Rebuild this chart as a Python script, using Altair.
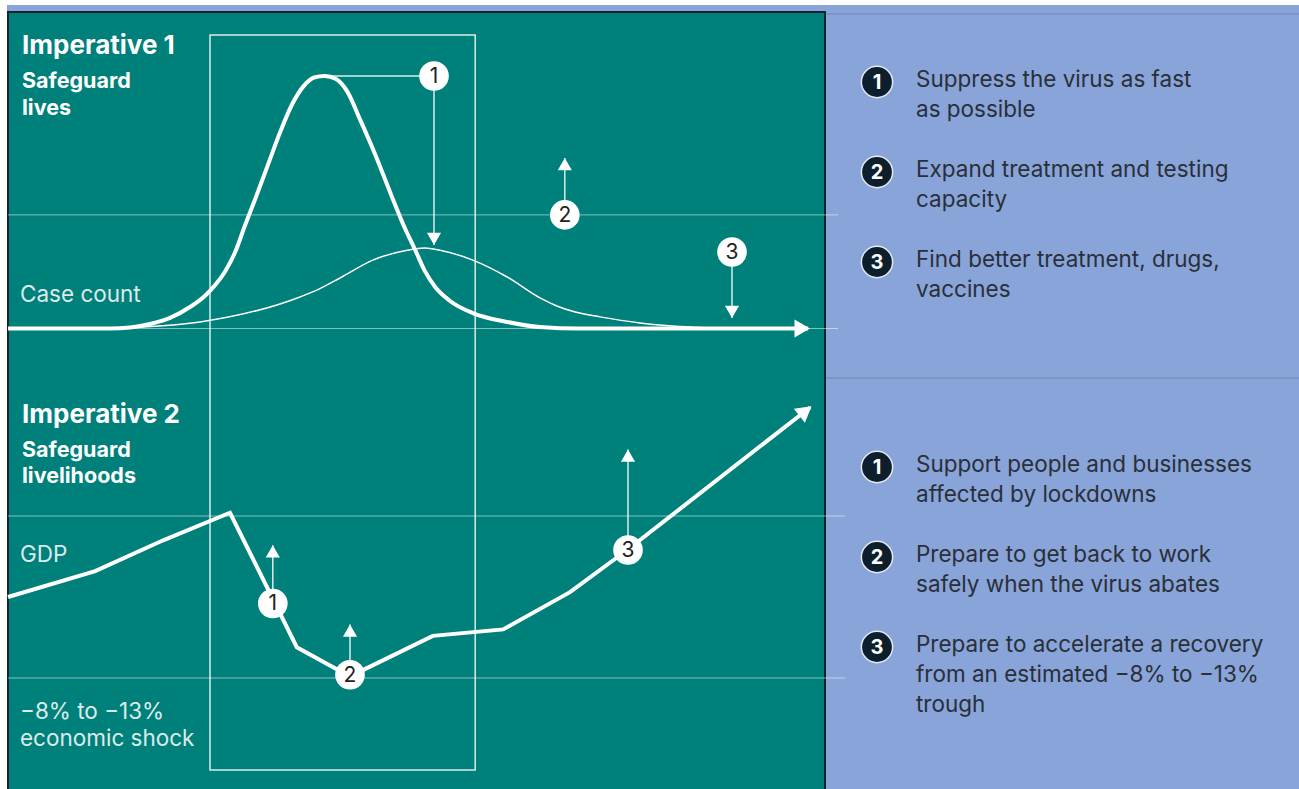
import math
import altair as alt
import pandas as pd

# ---------------- data ----------------
# Case count over time (time index 0-100), as % of the unmitigated peak
unmit_t = [0, 12.75, 15.25, 17.75, 20.25, 22.75, 24.6, 25.9, 27.1, 28.4, 29.6, 30.9, 32.4,
           34, 35.5, 36.9, 38.25, 39.6, 41, 42.4, 44, 45.9, 47.75, 49.6, 50.9, 52.1,
           53.4, 55.25, 58.1, 62.4, 66.5, 71.5, 100]
unmit_v = [0, 0, 0.4, 1.8, 4.2, 8.5, 12.9, 17.2, 22.4, 30.3, 40.6, 51.3, 64.0,
           77.6, 88.7, 95.8, 99.4, 100, 98.8, 93.9, 82.8, 68.9, 54.1, 39.8, 31.1, 22.8,
           16.4, 10.9, 6.1, 2.6, 0.6, 0, 0]
flat_t = [12.75, 24, 36.5, 38.6, 41.5, 45.6, 49.9, 52.1, 54, 58.1, 62.4, 66.5,
          68.6, 70.9, 74, 79, 85.25, 91.5]
flat_v = [0, 2.6, 12.5, 15.2, 20, 27.1, 31, 31.9, 31, 27.1, 20.4, 12.1,
          8.9, 6.5, 4.6, 2.2, 0.6, 0]
capacity = 45
peak_t = 39.6

# GDP index (pre-crisis level = 100)
gdp_t = [0, 10.9, 19.4, 27.75, 36.1, 42.75, 53.1, 61.9, 70.25, 77.4, 100.25]
gdp_v = [95.0, 96.6, 98.5, 100.2, 91.9, 90.1, 92.6, 93.0, 95.3, 97.9, 106.7]
gdp_pre = 100
gdp_trough = 90

# intervention window on the time axis
window_start = 25.25
window_end = 58.4

# numbered call-outs: time, level, arrow-tip level
case_n = ["1", "2", "3"]
case_ct = [53.25, 69.6, 90.5]
case_cv = [100, 45, 30.3]
case_tip = [33.1, 67.5, 4.2]

gdp_n = ["1", "2", "3"]
gdp_ct = [33.1, 42.75, 77.5]
gdp_cv = [94.6, 90.2, 97.9]
gdp_tip = [98.2, 93.3, 104.1]

# right-hand panel text
lives_items = [
    ["Suppress the virus as fast", "as possible"],
    ["Expand treatment and testing", "capacity"],
    ["Find better treatment, drugs,", "vaccines"],
]
livelihood_items = [
    ["Support people and businesses", "affected by lockdowns"],
    ["Prepare to get back to work", "safely when the virus abates"],
    ["Prepare to accelerate a recovery", "from an estimated \u22128% to \u221213%", "trough"],
]

# ---------------- styling ----------------
TEAL = "#00807a"
BLUE = "#88a4d8"
EDGE = "#14242c"
NAVY = "#0d1f2d"
INK = "#2a2f38"
FONT = "Inter"

X_RANGE = [8, 808]
CASE_RANGE = [328.5, 76]
GDP_RANGE = [678, 516]

xs = alt.Scale(domain=[0, 100], range=X_RANGE, nice=False, zero=False)
ys_case = alt.Scale(domain=[0, 100], range=CASE_RANGE, nice=False, zero=False)
ys_gdp = alt.Scale(domain=[gdp_trough, gdp_pre], range=GDP_RANGE, nice=False, zero=False)


def X(f):
    return alt.X(f, scale=xs, axis=None)


def YC(f):
    return alt.Y(f, scale=ys_case, axis=None)


def YG(f):
    return alt.Y(f, scale=ys_gdp, axis=None)


one = pd.DataFrame({"a": [0]})

layers = []

# panels
layers.append(alt.Chart(one).mark_rect(color=BLUE).encode(
    x=alt.value(7), x2=alt.value(1299), y=alt.value(5), y2=alt.value(789)))
layers.append(alt.Chart(one).mark_rect(fill=TEAL, stroke=EDGE, strokeWidth=2).encode(
    x=alt.value(8), x2=alt.value(825), y=alt.value(12), y2=alt.value(800)))
for yy in (14, 378):
    layers.append(alt.Chart(one).mark_rule(color="#7088bb", strokeWidth=1).encode(
        x=alt.value(826), x2=alt.value(1299), y=alt.value(yy)))

# reference lines
case_ref = pd.DataFrame({"v": [capacity, 0]})
gdp_ref = pd.DataFrame({"v": [gdp_pre, gdp_trough]})
layers.append(alt.Chart(case_ref).mark_rule(color="white", strokeWidth=1, opacity=0.5).encode(
    x=alt.value(8), x2=alt.value(838), y=YC("v:Q")))
layers.append(alt.Chart(gdp_ref).mark_rule(color="white", strokeWidth=1, opacity=0.5).encode(
    x=alt.value(8), x2=alt.value(845), y=YG("v:Q")))

# intervention window box
win = pd.DataFrame({"s": [window_start], "e": [window_end]})
layers.append(alt.Chart(win).mark_rect(fillOpacity=0, stroke="white", strokeWidth=1.5, strokeOpacity=0.85).encode(
    x=X("s:Q"), x2="e:Q", y=alt.value(35), y2=alt.value(770)))

# case curves
flat = pd.DataFrame({"t": flat_t, "v": flat_v})
unmit = pd.DataFrame({"t": unmit_t, "v": unmit_v})
layers.append(alt.Chart(flat).mark_line(color="white", strokeWidth=1.5, interpolate="monotone").encode(
    x=X("t:Q"), y=YC("v:Q")))
layers.append(alt.Chart(unmit).mark_line(color="white", strokeWidth=4, interpolate="monotone").encode(
    x=X("t:Q"), y=YC("v:Q")))

# GDP line
gdp = pd.DataFrame({"t": gdp_t, "v": gdp_v})
layers.append(alt.Chart(gdp).mark_line(color="white", strokeWidth=4).encode(
    x=X("t:Q"), y=YG("v:Q")))

# main arrowheads
HEAD = 320
hh = math.sqrt(HEAD) * math.sqrt(3) / 4
case_end = pd.DataFrame({"t": [unmit_t[-1]], "v": [unmit_v[-1]]})
layers.append(alt.Chart(case_end).mark_point(shape="triangle-right", filled=True, color="white",
                                             size=HEAD, opacity=1, xOffset=-hh + 2).encode(
    x=X("t:Q"), y=YC("v:Q")))

px_t = (X_RANGE[1] - X_RANGE[0]) / 100
px_g = (GDP_RANGE[0] - GDP_RANGE[1]) / (gdp_pre - gdp_trough)
dx = (gdp_t[-1] - gdp_t[-2]) * px_t
dy = (gdp_v[-1] - gdp_v[-2]) * px_g
theta = math.atan2(dy, dx)
gdp_end = pd.DataFrame({"t": [gdp_t[-1]], "v": [gdp_v[-1]]})
layers.append(alt.Chart(gdp_end).mark_point(
    shape="triangle-right", filled=True, color="white", size=HEAD, opacity=1,
    angle=(360 - math.degrees(theta)) % 360,
    xOffset=-(hh - 2) * math.cos(theta), yOffset=(hh - 2) * math.sin(theta)).encode(
    x=X("t:Q"), y=YG("v:Q")))

# call-outs
SMALL = 200
sh = math.sqrt(SMALL) * math.sqrt(3) / 4


def callouts(n, ct, cv, tip, Y):
    df = pd.DataFrame({"n": n, "t": ct, "v": cv, "tip": tip})
    df["dir"] = ["up" if b > a else "down" for a, b in zip(cv, tip)]
    out = []
    out.append(alt.Chart(df).mark_rule(color="white", strokeWidth=1.5, opacity=0.85).encode(
        x=X("t:Q"), y=Y("v:Q"), y2="tip:Q"))
    out.append(alt.Chart(df).transform_filter("datum.dir == 'up'").mark_point(
        shape="triangle-up", filled=True, color="white", size=SMALL, opacity=1, yOffset=sh).encode(
        x=X("t:Q"), y=Y("tip:Q")))
    out.append(alt.Chart(df).transform_filter("datum.dir == 'down'").mark_point(
        shape="triangle-down", filled=True, color="white", size=SMALL, opacity=1, yOffset=-sh).encode(
        x=X("t:Q"), y=Y("tip:Q")))
    out.append(alt.Chart(df).mark_point(shape="circle", filled=True, color="white", size=880, opacity=1).encode(
        x=X("t:Q"), y=Y("v:Q")))
    out.append(alt.Chart(df).mark_text(font=FONT, fontSize=21, color="#222222", baseline="middle", dy=1).encode(
        x=X("t:Q"), y=Y("v:Q"), text="n:N"))
    return out


# connector from the unmitigated peak to call-out 1
conn = pd.DataFrame({"t0": [peak_t], "t1": [case_ct[0]], "v": [case_cv[0]]})
layers.append(alt.Chart(conn).mark_rule(color="white", strokeWidth=1.5, opacity=0.85).encode(
    x=X("t0:Q"), x2="t1:Q", y=YC("v:Q")))
layers += callouts(case_n, case_ct, case_cv, case_tip, YC)
layers += callouts(gdp_n, gdp_ct, gdp_cv, gdp_tip, YG)


# left-hand labels
def label(text, x, y, size, weight="normal", opacity=1.0):
    return alt.Chart(one).mark_text(text=text, font=FONT, fontSize=size, fontWeight=weight,
                                    color="white", opacity=opacity, align="left",
                                    baseline="alphabetic").encode(x=alt.value(x), y=alt.value(y))


layers += [
    label("Imperative 1", 22, 54, 26, "bold"),
    label("Safeguard", 22, 88, 21.5, "bold"),
    label("lives", 22, 115, 21.5, "bold"),
    label("Case count", 20, 302, 22.5, opacity=0.85),
    label("Imperative 2", 22, 423, 26, "bold"),
    label("Safeguard", 22, 457, 21.5, "bold"),
    label("livelihoods", 22, 483, 21.5, "bold"),
    label("GDP", 20, 562, 22.5, opacity=0.85),
    label("\u22128% to \u221213%", 20, 719, 22.5, opacity=0.85),
    label("economic shock", 20, 746, 22.5, opacity=0.85),
]


# right-hand panel lists
def item_list(items, first_baseline):
    rows = []
    for i, lines in enumerate(items):
        for j, txt in enumerate(lines):
            rows.append({"slot": 3 * i + j, "text": txt})
    df = pd.DataFrame(rows)
    nums = pd.DataFrame({"slot": [3 * i for i in range(len(items))],
                         "n": [str(i + 1) for i in range(len(items))]})
    ys = alt.Scale(domain=[0, 1], range=[first_baseline, first_baseline + 30], nice=False, zero=False)
    return [
        alt.Chart(df).mark_text(font=FONT, fontSize=22.5, color=INK, align="left", baseline="alphabetic").encode(
            x=alt.value(916), y=alt.Y("slot:Q", scale=ys, axis=None), text="text:N"),
        alt.Chart(nums).mark_point(shape="circle", filled=True, fill=NAVY, stroke="#e4eaf5", strokeWidth=1.5,
                                   size=980, opacity=1, yOffset=-5).encode(
            x=alt.value(877), y=alt.Y("slot:Q", scale=ys, axis=None)),
        alt.Chart(nums).mark_text(font=FONT, fontSize=20, fontWeight="bold", color="white",
                                  baseline="middle", yOffset=-4).encode(
            x=alt.value(877), y=alt.Y("slot:Q", scale=ys, axis=None), text="n:N"),
    ]


layers += item_list(lives_items, 87)
layers += item_list(livelihood_items, 472)

chart = alt.layer(*layers).resolve_scale(x="independent", y="independent").properties(
    width=1299, height=789, autosize=alt.AutoSizeParams(type="none"), padding=0,
    background="white").configure_view(strokeWidth=0)

chart.save("out.html", embed_options={"renderer": "svg", "actions": False})
